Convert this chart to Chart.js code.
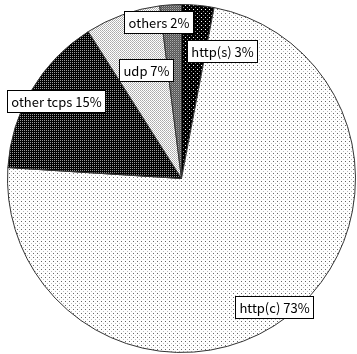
<!DOCTYPE html>
<html>
<head>
<meta charset="utf-8">
<script src="https://cdn.jsdelivr.net/npm/chart.js@4"></script>
<style>
  html, body { margin: 0; padding: 0; background: #fff; }
  #wrap { width: 357px; height: 354px; }
</style>
</head>
<body>
<div id="wrap"><canvas id="pie"></canvas></div>
<script>
const labels = ['http(s)', 'http(c)', 'other tcps', 'udp', 'others'];
const shares = [3, 73, 15, 7, 2];

// where each label box sits, relative to the pie centre, in radius units
const labelOffsets = [[0.233, -0.733], [0.532, 0.739], [-0.721, -0.448], [-0.204, -0.626], [-0.135, -0.899]];

// small bitmap tiles used as fills
function makePattern(size, bg, dots) {
  const c = document.createElement('canvas');
  c.width = size; c.height = size;
  const g = c.getContext('2d');
  g.fillStyle = bg;
  g.fillRect(0, 0, size, size);
  dots.forEach(([x, y, col]) => {
    g.fillStyle = col;
    g.fillRect(x, y, 1, 1);
  });
  return g.createPattern(c, 'repeat');
}

const fills = [
  makePattern(4, '#000', [[1, 1, '#fff'], [3, 3, '#888']]),
  makePattern(4, '#fff', [[1, 1, '#666'], [3, 3, '#bbb']]),
  makePattern(2, '#000', [[0, 0, '#999']]),
  makePattern(2, '#fff', [[0, 0, '#aaa'], [1, 1, '#bbb']]),
  makePattern(2, '#555', [[0, 0, '#aaa'], [1, 1, '#777']])
];

const boxLabels = {
  id: 'boxLabels',
  afterDatasetsDraw(chart) {
    const ctx = chart.ctx;
    const arcs = chart.getDatasetMeta(0).data;
    ctx.save();
    ctx.font = '13px "Noto Sans CJK JP", sans-serif';
    ctx.textAlign = 'center';
    ctx.textBaseline = 'middle';
    arcs.forEach((arc, i) => {
      const r = arc.outerRadius;
      const cx = arc.x + labelOffsets[i][0] * r;
      const cy = arc.y + labelOffsets[i][1] * r;
      const text = labels[i] + ' ' + shares[i] + '%';
      const w = Math.round(ctx.measureText(text).width) + 8;
      const h = 22;
      const x0 = Math.round(cx - w / 2) + 0.5;
      const y0 = Math.round(cy - h / 2) + 0.5;
      ctx.fillStyle = '#fff';
      ctx.fillRect(x0, y0, w, h);
      ctx.strokeStyle = '#000';
      ctx.lineWidth = 1;
      ctx.strokeRect(x0, y0, w, h);
      ctx.fillStyle = '#000';
      ctx.fillText(text, x0 + w / 2, y0 + h / 2 + 1);
    });
    ctx.restore();
  }
};

new Chart(document.getElementById('pie'), {
  type: 'pie',
  data: {
    labels: labels,
    datasets: [{
      data: shares,
      backgroundColor: fills,
      borderColor: '#333',
      borderWidth: 1
    }]
  },
  options: {
    responsive: true,
    maintainAspectRatio: false,
    animation: false,
    layout: { padding: { left: 7, top: 4, right: 1, bottom: 1 } },
    plugins: {
      legend: { display: false },
      tooltip: { enabled: false }
    }
  },
  plugins: [boxLabels]
});
</script>
</body>
</html>
